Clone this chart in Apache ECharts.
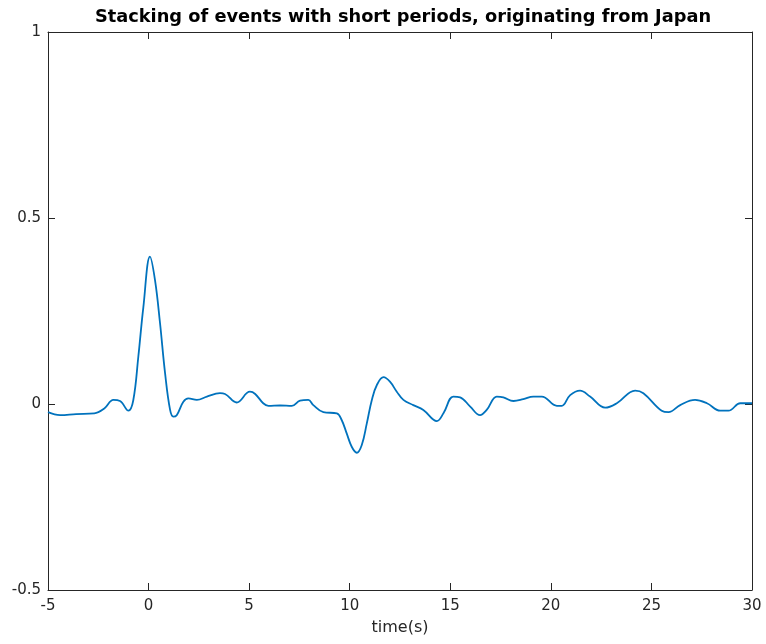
<!DOCTYPE html>
<html>
<head>
<meta charset="utf-8">
<script src="https://cdn.jsdelivr.net/npm/echarts@6/dist/echarts.min.js"></script>
<style>
  html, body { margin: 0; padding: 0; background: #fff; }
  #chart { width: 766px; height: 644px; }
</style>
</head>
<body>
<div id="chart"></div>
<script>
// time (s) and stacked amplitude
const times = [-5, -4.4, -3.6, -2.7, -2.2, -1.75, -1.42, -1.0, -0.76, -0.51, -0.26, 0.07, 0.32, 0.57, 0.82, 1.07, 1.23, 1.4, 1.73,
  1.98, 2.4, 2.9, 3.55, 3.8, 4.38, 5.04, 5.3, 5.7, 5.96, 6.54, 7.12, 7.53, 7.94, 8.19, 8.69, 9.36, 9.6, 9.85, 10.1, 10.35,
  10.6, 10.85, 11.1, 11.35, 11.68, 12.0, 12.34, 12.67, 13.16, 13.66, 14.33, 14.66, 15.15, 15.49, 15.99, 16.48, 16.81,
  17.31, 17.64, 18.14, 18.63, 19.13, 19.55, 20.3, 20.54, 20.96, 21.45, 21.95, 22.7, 23.28, 24.19, 24.6, 25.51, 25.85,
  26.43, 27.17, 27.76, 28.42, 28.83, 29.42, 30];
const amplitude = [-0.022, -0.03, -0.027, -0.025, -0.012, 0.011, 0.008, -0.018, 0.01, 0.127, 0.26, 0.396, 0.333, 0.217, 0.083, -0.016, -0.034, -0.03, 0.006,
  0.015, 0.011, 0.02, 0.029, 0.027, 0.004, 0.033, 0.027, 0.002, -0.005, -0.004, -0.005, 0.009, 0.011, -0.003, -0.022, -0.025, -0.043, -0.079, -0.115, -0.131,
  -0.11, -0.052, 0.011, 0.051, 0.072, 0.06, 0.033, 0.011, -0.003, -0.016, -0.046, -0.025, 0.02, 0.018, -0.007, -0.03, -0.016,
  0.02, 0.018, 0.008, 0.013, 0.02, 0.02, -0.005, -0.005, 0.024, 0.036, 0.02, -0.01, 0.002, 0.036, 0.029, -0.018, -0.022,
  -0.003, 0.011, 0.002, -0.018, -0.018, 0.002, 0.002];

const points = times.map((t, i) => [t, amplitude[i]]);

const chart = echarts.init(document.getElementById('chart'));

// MATLAB-like box: axis lines on all four sides, ticks pointing inward
const axisLine = { show: true, onZero: false, lineStyle: { color: '#262626', width: 1 } };
const tick = { show: true, inside: true, length: 7, lineStyle: { color: '#262626' } };
const labelStyle = { color: '#262626', fontFamily: 'DejaVu Sans', fontSize: 15 };

chart.setOption({
  animation: false,
  title: {
    text: 'Stacking of events with short periods, originating from Japan',
    left: 398,
    textAlign: 'center',
    top: 3,
    textStyle: { fontFamily: 'DejaVu Sans', fontSize: 17.8, fontWeight: 'bold', color: '#000' }
  },
  grid: { left: 48, right: 14, top: 32, bottom: 54 },
  xAxis: [
    {
      type: 'value', min: -5, max: 30, interval: 5, position: 'bottom',
      name: 'time(s)', nameLocation: 'middle', nameGap: 30,
      nameTextStyle: { color: '#262626', fontFamily: 'DejaVu Sans', fontSize: 16 },
      axisLine: axisLine, axisTick: tick, splitLine: { show: false },
      axisLabel: Object.assign({ margin: 9 }, labelStyle)
    },
    {
      type: 'value', min: -5, max: 30, interval: 5, position: 'top',
      axisLine: axisLine, axisTick: tick, splitLine: { show: false }, axisLabel: { show: false }
    }
  ],
  yAxis: [
    {
      type: 'value', min: -0.5, max: 1, interval: 0.5, position: 'left',
      axisLine: axisLine, axisTick: tick, splitLine: { show: false },
      axisLabel: Object.assign({ margin: 7, formatter: v => String(v) }, labelStyle)
    },
    {
      type: 'value', min: -0.5, max: 1, interval: 0.5, position: 'right',
      axisLine: axisLine, axisTick: tick, splitLine: { show: false }, axisLabel: { show: false }
    }
  ],
  series: [{
    type: 'line',
    data: points,
    smooth: 0.4,
    showSymbol: false,
    lineStyle: { color: '#0072BD', width: 1.8 }
  }]
});
</script>
</body>
</html>
